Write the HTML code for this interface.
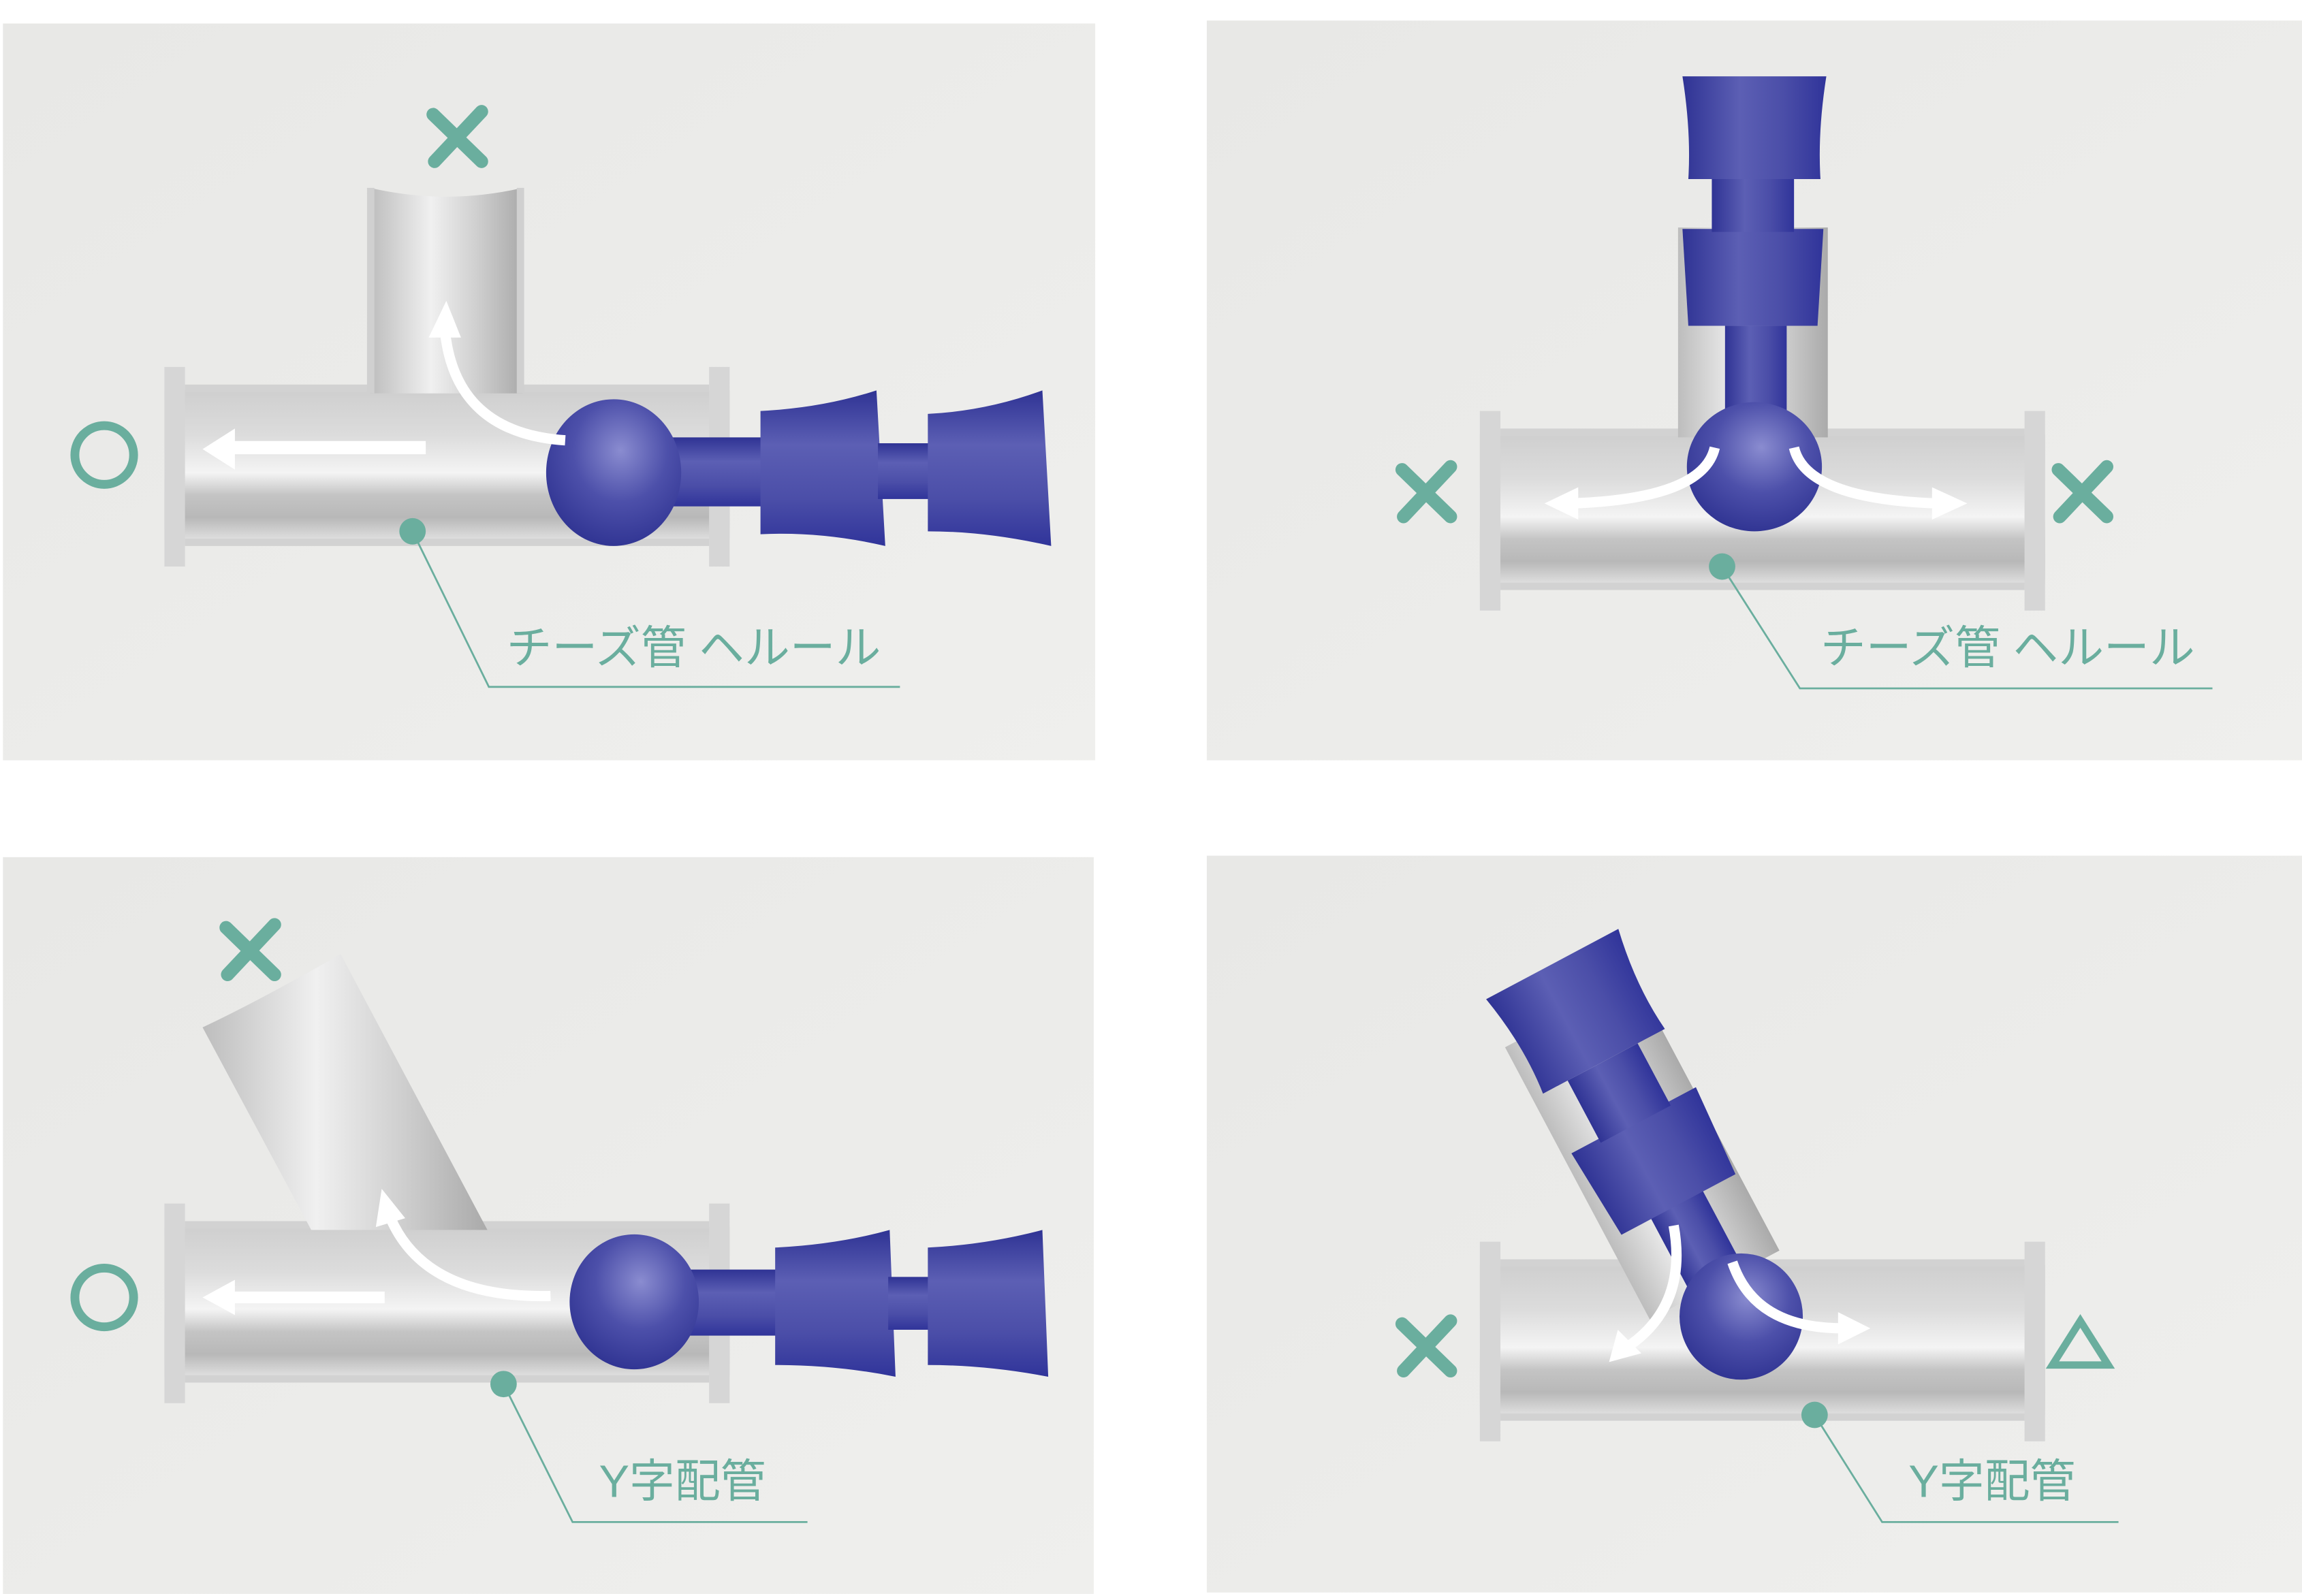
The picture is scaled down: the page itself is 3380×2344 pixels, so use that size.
<!DOCTYPE html>
<html><head><meta charset="utf-8"><style>
html,body{margin:0;padding:0;background:#fff;width:3380px;height:2344px;overflow:hidden}
svg{display:block}
text{font-family:"Liberation Sans","Noto Sans CJK JP",sans-serif;fill:#6aae9e}
</style></head><body>
<svg width="3380" height="2344" viewBox="0 0 1568 1087.4" preserveAspectRatio="none" xmlns="http://www.w3.org/2000/svg">
<defs>
<linearGradient id="bg" x1="0" y1="0" x2="1" y2="1"><stop offset="0" stop-color="#e8e8e6"/><stop offset="1" stop-color="#efefed"/></linearGradient>
<linearGradient id="pv" x1="0" y1="0" x2="0" y2="1"><stop offset="0" stop-color="#cfcfcf"/><stop offset="0.3" stop-color="#dcdcdc"/><stop offset="0.55" stop-color="#f4f4f4"/><stop offset="0.7" stop-color="#c4c4c4"/><stop offset="0.85" stop-color="#b8b8b8"/><stop offset="1" stop-color="#e0e0e0"/></linearGradient>
<linearGradient id="ph" x1="0" y1="0" x2="1" y2="0"><stop offset="0" stop-color="#bdbdbd"/><stop offset="0.4" stop-color="#f0f0f0"/><stop offset="0.7" stop-color="#cfcfcf"/><stop offset="1" stop-color="#aaaaaa"/></linearGradient>
<linearGradient id="bl" x1="0" y1="0" x2="0" y2="1"><stop offset="0" stop-color="#2f3394"/><stop offset="0.35" stop-color="#5c5fb4"/><stop offset="0.7" stop-color="#4b4ea8"/><stop offset="1" stop-color="#30349a"/></linearGradient>
<linearGradient id="blh" x1="0" y1="0" x2="1" y2="0"><stop offset="0" stop-color="#2f3394"/><stop offset="0.4" stop-color="#5c5fb4"/><stop offset="0.7" stop-color="#4b4ea8"/><stop offset="1" stop-color="#30349a"/></linearGradient>
<radialGradient id="ball" cx="0.55" cy="0.35" r="0.7"><stop offset="0" stop-color="#8a8cd0"/><stop offset="0.5" stop-color="#4d50aa"/><stop offset="1" stop-color="#2d3190"/></radialGradient>
<g id="pipeH">
<rect x="0" y="16" width="385" height="102" fill="url(#pv)"/>
<rect x="0" y="0" width="14" height="136" fill="#d6d6d6"/>
<rect x="371" y="0" width="14" height="136" fill="#d6d6d6"/>
<rect x="14" y="12" width="357" height="5" fill="#d2d2d2"/>
<rect x="14" y="117" width="357" height="5" fill="#d2d2d2"/>
</g>
</defs>
<rect width="1568" height="1088" fill="#fff"/>
<rect x="2" y="16" width="744" height="502" fill="url(#bg)"/>
<rect x="822" y="14" width="746" height="504" fill="url(#bg)"/>
<rect x="2" y="584" width="743" height="502" fill="url(#bg)"/>
<rect x="822" y="583" width="746" height="502" fill="url(#bg)"/>

<!-- TL -->
<use href="#pipeH" x="112" y="250"/>
<path d="M252 128 Q304 140 356 128 L356 268 L252 268 Z" fill="url(#ph)"/>
<rect x="250" y="128" width="5" height="140" fill="#d0d0d0"/><rect x="352" y="128" width="5" height="140" fill="#d0d0d0"/>
<rect x="455" y="298" width="70" height="47" fill="url(#bl)"/>
<path d="M518 280 Q560 278 597 266 L603 372 Q560 362 518 364 Z" fill="url(#bl)"/>
<rect x="598" y="302" width="38" height="38" fill="url(#bl)"/>
<path d="M632 282 Q672 280 710 266 L716 372 Q672 362 632 362 Z" fill="url(#bl)"/>
<ellipse cx="418" cy="322" rx="46" ry="50" fill="url(#ball)"/>
<path d="M290 305 L152 305" stroke="#fff" stroke-width="9" fill="none"/><path d="M160 292 L138 306 L160 320 Z" fill="#fff"/>
<path d="M385 300 Q310 295 303 225" stroke="#fff" stroke-width="7" fill="none"/><path d="M292 230 L304 205 L314 230 Z" fill="#fff"/>
<path d="M295 78 L328 110 M328 76 L296 110" stroke="#6aae9e" stroke-width="9" stroke-linecap="round"/>
<circle cx="71" cy="310" r="20" fill="none" stroke="#6aae9e" stroke-width="6"/>
<circle cx="281" cy="362" r="9" fill="#6aae9e"/>
<path d="M281 362 L333 468 L613 468" stroke="#6aae9e" stroke-width="1.3" fill="none"/>
<text x="345" y="452" font-size="31">チーズ管 ヘルール</text>

<!-- TR -->
<use href="#pipeH" x="1008" y="280"/>
<rect x="1143" y="155" width="102" height="143" fill="url(#ph)"/>
<rect x="1175" y="222" width="42" height="62" fill="url(#blh)"/>
<path d="M1146 156 L1242 156 L1238 222 L1150 222 Z" fill="url(#blh)"/>
<rect x="1166" y="118" width="56" height="40" fill="url(#blh)"/>
<path d="M1146 52 L1244 52 Q1238 90 1240 122 L1150 122 Q1152 90 1146 52 Z" fill="url(#blh)"/>
<ellipse cx="1195" cy="318" rx="46" ry="44" fill="url(#ball)"/>
<path d="M1168 305 Q1160 340 1070 343" stroke="#fff" stroke-width="7" fill="none"/><path d="M1075 332 L1052 343 L1075 354 Z" fill="#fff"/>
<path d="M1222 305 Q1230 340 1320 343" stroke="#fff" stroke-width="7" fill="none"/><path d="M1316 332 L1340 343 L1316 354 Z" fill="#fff"/>
<path d="M955 320 L988 352 M988 318 L956 352" stroke="#6aae9e" stroke-width="9" stroke-linecap="round"/>
<path d="M1402 320 L1435 352 M1435 318 L1403 352" stroke="#6aae9e" stroke-width="9" stroke-linecap="round"/>
<circle cx="1173" cy="386" r="9" fill="#6aae9e"/>
<path d="M1173 386 L1226 469 L1507 469" stroke="#6aae9e" stroke-width="1.3" fill="none"/>
<text x="1240" y="452" font-size="31">チーズ管 ヘルール</text>

<!-- BL -->
<use href="#pipeH" x="112" y="820"/>
<path d="M212 838 L138 700 Q180 680 232 650 L332 838 Z" fill="url(#ph)"/>
<rect x="465" y="865" width="70" height="45" fill="url(#bl)"/>
<path d="M528 850 Q570 848 606 838 L610 938 Q570 930 528 930 Z" fill="url(#bl)"/>
<rect x="605" y="870" width="32" height="36" fill="url(#bl)"/>
<path d="M632 850 Q672 848 710 838 L714 938 Q672 930 632 930 Z" fill="url(#bl)"/>
<ellipse cx="432" cy="887" rx="44" ry="46" fill="url(#ball)"/>
<path d="M262 884 L152 884" stroke="#fff" stroke-width="8" fill="none"/><path d="M160 872 L138 884 L160 896 Z" fill="#fff"/>
<path d="M375 883 Q290 885 266 830" stroke="#fff" stroke-width="7" fill="none"/><path d="M256 836 L260 810 L276 830 Z" fill="#fff"/>
<path d="M154 632 L187 664 M187 630 L155 664" stroke="#6aae9e" stroke-width="9" stroke-linecap="round"/>
<circle cx="71" cy="884" r="20" fill="none" stroke="#6aae9e" stroke-width="6"/>
<circle cx="343" cy="943" r="9" fill="#6aae9e"/>
<path d="M343 943 L390 1037 L550 1037" stroke="#6aae9e" stroke-width="1.3" fill="none"/>
<text x="408" y="1020" font-size="31">Y字配管</text>

<!-- BR -->
<use href="#pipeH" x="1008" y="846"/>
<g transform="rotate(-28 1185 897)">
<rect x="1130" y="660" width="100" height="210" fill="url(#ph)"/>
<rect x="1163" y="720" width="40" height="150" fill="url(#blh)"/>
<path d="M1136 745 L1232 745 L1228 810 L1140 810 Z" fill="url(#blh)"/>
<rect x="1157" y="700" width="54" height="48" fill="url(#blh)"/>
<path d="M1134 625 L1236 625 Q1228 665 1232 700 L1138 700 Q1142 665 1134 625 Z" fill="url(#blh)"/>
</g>
<ellipse cx="1186" cy="897" rx="42" ry="43" fill="url(#ball)"/>
<path d="M1140 835 Q1150 890 1108 918" stroke="#fff" stroke-width="7" fill="none"/><path d="M1102 906 L1096 928 L1118 922 Z" fill="#fff"/>
<path d="M1180 860 Q1195 905 1255 905" stroke="#fff" stroke-width="7" fill="none"/><path d="M1252 894 L1274 905 L1252 916 Z" fill="#fff"/>
<path d="M955 902 L988 934 M988 900 L956 934" stroke="#6aae9e" stroke-width="9" stroke-linecap="round"/>
<path d="M1417 900 L1398 930 L1436 930 Z" fill="none" stroke="#6aae9e" stroke-width="5"/>
<circle cx="1236" cy="964" r="9" fill="#6aae9e"/>
<path d="M1236 964 L1282 1037 L1443 1037" stroke="#6aae9e" stroke-width="1.3" fill="none"/>
<text x="1300" y="1020" font-size="31">Y字配管</text>
</svg>
</body></html>
